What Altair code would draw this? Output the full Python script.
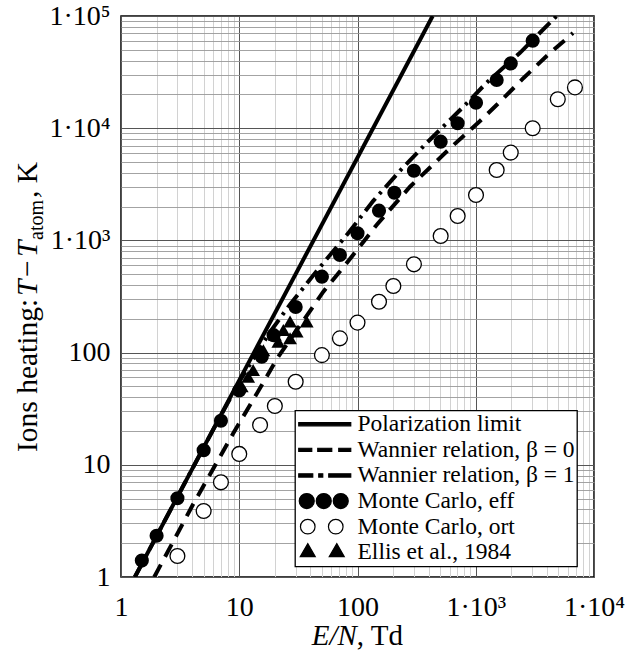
import altair as alt
import pandas as pd

# ---------------- data ----------------
POLAR_X = [1.31, 432.0]
POLAR_Y = [1.0, 100000.0]

W0_X = [1.91, 4.04, 8.9, 13.6, 21.4, 51.4, 78.4, 145, 278, 626, 1087, 1603, 2525, 3980, 6640]
W0_Y = [1.0, 4.38, 19.1, 40.5, 92, 349, 600, 1372, 3010, 6840, 11600, 17200, 27900, 44000, 70500]

W1_X = [1.31, 5, 10, 18, 27, 47, 84, 136, 237, 385, 785, 1238, 2366, 4830]
W1_Y = [1.0, 14.3, 55, 150, 270, 560, 1170, 2250, 4350, 7400, 15500, 25500, 47000, 100000]

EFF_X = [1.5, 2, 3, 5, 7, 10, 15.5, 19.5, 30, 50, 71, 100, 152, 205, 300, 505, 703, 1005, 1503, 1977, 3030]
EFF_Y = [1.40, 2.33, 5.03, 13.5, 24.7, 46, 92, 143, 255, 475, 741, 1157, 1841, 2660, 4180, 7590, 11060,
         16870, 26900, 37800, 60300]

ORT_X = [3, 5, 7, 10, 15, 20, 30, 50, 71, 100, 152, 201, 300, 505, 703, 1005, 1503, 1977, 3030, 4940, 6900]
ORT_Y = [1.54, 3.87, 6.98, 12.5, 22.6, 33.4, 55, 95, 134, 185, 284, 392, 612, 1094, 1650, 2540, 4240,
         6060, 9980, 18100, 23100]

ELLIS_X = [10.5, 11.9, 13.1, 16.0, 20.0, 21.4, 23.6, 26.9, 26.9, 30.6, 37.2]
ELLIS_Y = [50, 61, 70, 105, 144, 125, 159, 134, 189, 154, 189]

SERIES = ["Polarization limit", "Wannier relation, β = 0", "Wannier relation, β = 1",
          "Monte Carlo, eff", "Monte Carlo, ort", "Ellis et al., 1984"]

X_TICKS = [1, 10, 100, 1000, 10000]
X_TICK_LABELS = ["1", "10", "100", "1·10³", "1·10⁴"]
Y_TICKS = [1, 10, 100, 1000, 10000, 100000]
Y_TICK_LABELS = ["1", "10", "100", "1·10³", "1·10⁴", "1·10⁵"]
MINOR_X = [k * 10 ** d for d in range(4) for k in range(2, 10)]
MINOR_Y = [k * 10 ** d for d in range(5) for k in range(2, 10)]

# ---------------- styling ----------------
SERIF = "Liberation Serif"
W, H = 473, 561


def label_expr(vals, labels):
    expr = "''"
    for v, l in reversed(list(zip(vals, labels))):
        expr = f"abs(datum.value - {v}) < {v} * 1e-6 ? '{l}' : {expr}"
    return expr


xs = alt.Scale(type="log", domain=[1, 10000], nice=False)
ys = alt.Scale(type="log", domain=[1, 100000], nice=False)

major_x = alt.Axis(values=X_TICKS, labelExpr=label_expr(X_TICKS, X_TICK_LABELS), grid=True,
                   gridColor="#555555", gridWidth=1, ticks=False, tickSize=0, domain=False,
                   labelFont=SERIF, labelFontSize=28, labelColor="black", labelPadding=16,
                   labelFlush=False, labelOverlap=False, title="", orient="bottom")
major_y = alt.Axis(values=Y_TICKS, labelExpr=label_expr(Y_TICKS, Y_TICK_LABELS), grid=True,
                   gridColor="#555555", gridWidth=1, ticks=False, tickSize=0, domain=False,
                   labelFont=SERIF, labelFontSize=28, labelColor="black", labelPadding=11,
                   labelFlush=False, labelOverlap=False, title="", orient="left")
minor_x = alt.Axis(values=MINOR_X, grid=True, gridColor="#d2d2d2", gridWidth=1, labels=False,
                   ticks=False, domain=False, title="", orient="top")
minor_y = alt.Axis(values=MINOR_Y, grid=True, gridColor="#999999", gridWidth=0.9, labels=False,
                   ticks=False, domain=False, title="", orient="right")


def df_xy(xv, yv):
    return pd.DataFrame({"x": xv, "y": yv})


def enc(chart, xaxis=None, yaxis=None):
    return chart.encode(
        x=alt.X("x:Q", scale=xs, axis=xaxis),
        y=alt.Y("y:Q", scale=ys, axis=yaxis),
    )


polar = enc(alt.Chart(df_xy(POLAR_X, POLAR_Y)).mark_line(color="black", strokeWidth=4, clip=True),
            major_x, major_y)
w0 = enc(alt.Chart(df_xy(W0_X, W0_Y)).mark_line(color="black", strokeWidth=4, strokeDash=[14, 9], clip=True))
w1 = enc(alt.Chart(df_xy(W1_X, W1_Y)).mark_line(color="black", strokeWidth=4, strokeDash=[16, 6, 3, 6],
                                               clip=True))
eff = enc(alt.Chart(df_xy(EFF_X, EFF_Y)).mark_point(shape="circle", filled=True, fill="black",
                                                    size=200, opacity=1))
ort = enc(alt.Chart(df_xy(ORT_X, ORT_Y)).mark_point(shape="circle", filled=True, fill="white",
                                                    stroke="black", strokeWidth=1.3, size=220, opacity=1))
ellis = enc(alt.Chart(df_xy(ELLIS_X, ELLIS_Y)).mark_point(shape="triangle-up", filled=True, fill="black",
                                                          size=190, opacity=1))


# ---------------- legend (symbols drawn as custom shapes, 1 unit = 1 px) ----------------
def rect(x0, x1, h=1.6):
    return f"M{x0},{-h}H{x1}V{h}H{x0}Z"


def circ(cx, r):
    return f"M{cx - r},0A{r},{r} 0 1,0 {cx + r},0A{r},{r} 0 1,0 {cx - r},0Z"


def tri(cx, s):
    h = s * 0.866
    return f"M{cx},{-h * 2 / 3:.2f}L{cx + s / 2},{h / 3:.2f}L{cx - s / 2},{h / 3:.2f}Z"


S0 = -12  # shift of the symbol drawings
PATHS = [
    rect(S0 + 0, S0 + 52),
    rect(S0 + 0, S0 + 13) + rect(S0 + 19, S0 + 33) + rect(S0 + 40, S0 + 52),
    rect(S0 + 0, S0 + 14) + rect(S0 + 20, S0 + 24) + rect(S0 + 30, S0 + 52),
    circ(S0 + 8, 7.5) + circ(S0 + 25, 7.5) + circ(S0 + 42, 7.5),
    circ(S0 + 9, 7.3) + circ(S0 + 37, 7.3),
    tri(S0 + 9, 15) + tri(S0 + 38, 15),
]
LEGEND_FILLS = ["black", "black", "black", "black", "white", "black"]
LEGEND_STROKES = ["black"] * 6

legend = alt.Legend(title=None, orient="none", legendX=174, legendY=394.5, symbolSize=4,
                    symbolStrokeColor="black", symbolStrokeWidth=1.2, symbolOffset=2,
                    symbolOpacity=1,
                    labelFont=SERIF, labelFontSize=23.5, labelColor="black", labelLimit=500,
                    labelOffset=35, rowPadding=0.6, padding=2, strokeColor="black",
                    fillColor="white", direction="vertical")

leg_df = pd.DataFrame({"series": SERIES, "x": [10.0] * 6, "y": [10.0] * 6})
leg = alt.Chart(leg_df).transform_filter("false").mark_point(filled=True, opacity=1,
                                                            strokeWidth=1.2).encode(
    x=alt.X("x:Q", scale=xs, axis=minor_x),
    y=alt.Y("y:Q", scale=ys, axis=minor_y),
    shape=alt.Shape("series:N", scale=alt.Scale(domain=SERIES, range=PATHS), legend=legend),
    fill=alt.Fill("series:N", scale=alt.Scale(domain=SERIES, range=LEGEND_FILLS), legend=legend),
    stroke=alt.Stroke("series:N", scale=alt.Scale(domain=SERIES, range=LEGEND_STROKES), legend=legend),
)


# ---------------- axis titles (mixed italic / subscript pieces) ----------------
def text_piece(txt, px, py, size=29, style="normal", angle=0):
    return alt.Chart(pd.DataFrame({"t": [txt]})).mark_text(
        font=SERIF, fontSize=size, fontStyle=style, color="black", align="left",
        baseline="alphabetic", angle=angle,
    ).encode(x=alt.value(px), y=alt.value(py), text="t:N")


OX, OY = 121, 16  # plot origin in the page
titles = [
    text_piece("E/N", 311.7 - OX, 645 - OY, style="italic"),
    text_piece(", Td", 356.8 - OX, 645 - OY),
    text_piece("Ions heating:", 37 - OX, 452 - OY, size=29.5, angle=270),
    text_piece("T", 37 - OX, 296 - OY, size=29.5, style="italic", angle=270),
    text_piece("−", 37 - OX, 277 - OY, size=29.5, angle=270),
    text_piece("T", 37 - OX, 257 - OY, size=29.5, style="italic", angle=270),
    text_piece("atom", 43 - OX, 240 - OY, size=20, angle=270),
    text_piece(", K", 37 - OX, 198 - OY, size=29.5, angle=270),
]

chart = alt.layer(polar, w0, w1, leg, eff, ort, ellis, *titles).resolve_axis(
    x="independent", y="independent"
).properties(
    width=W, height=H,
    autosize=alt.AutoSizeParams(type="none"),
    padding={"left": OX, "top": OY, "right": 625 - OX - W, "bottom": 657 - OY - H},
).configure_view(stroke="black", strokeWidth=1.5).configure_legend(strokeWidth=1.3)

chart.save("out.html", embed_options={"renderer": "svg", "actions": False})
